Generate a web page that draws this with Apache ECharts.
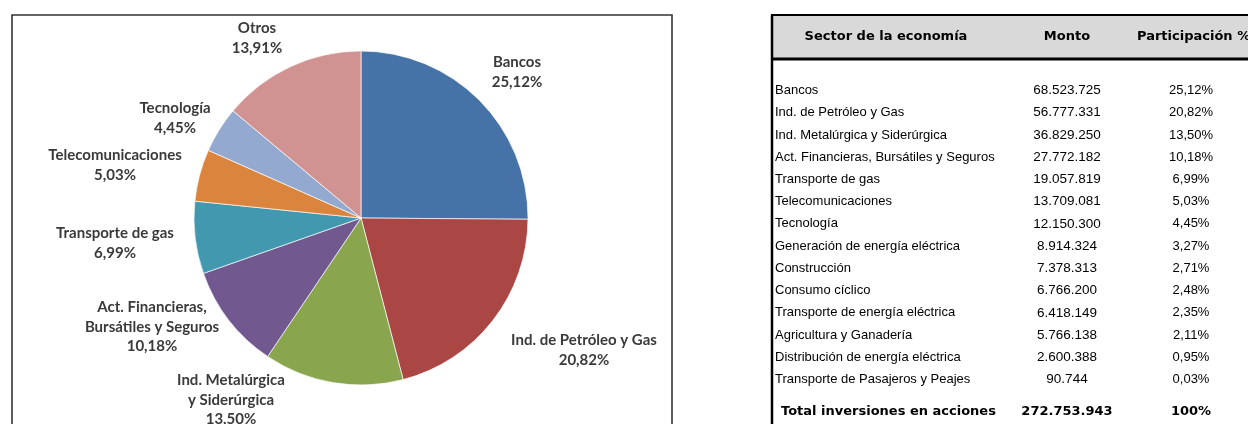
<!DOCTYPE html>
<html><head><meta charset="utf-8">
<script src="https://cdn.jsdelivr.net/npm/echarts@6/dist/echarts.min.js"></script>
<style>html,body{margin:0;padding:0;background:#fff}#c{width:1248px;height:424px}</style>
</head><body><div id="c"></div>
<script>
// ---- Pie data ----
const pieCategories = ['Bancos', 'Ind. de Petróleo y Gas', 'Ind. Metalúrgica\ny Siderúrgica', 'Act. Financieras,\nBursátiles y Seguros', 'Transporte de gas', 'Telecomunicaciones', 'Tecnología', 'Otros'];
const pieShares = [25.12, 20.82, 13.50, 10.18, 6.99, 5.03, 4.45, 13.91];

// ---- Table data ----
const tableHeaders = ['Sector de la economía', 'Monto', 'Participación %'];
const tableSectors = ['Bancos', 'Ind. de Petróleo y Gas', 'Ind. Metalúrgica y Siderúrgica', 'Act. Financieras, Bursátiles y Seguros', 'Transporte de gas', 'Telecomunicaciones', 'Tecnología', 'Generación de energía eléctrica', 'Construcción', 'Consumo cíclico', 'Transporte de energía eléctrica', 'Agricultura y Ganadería', 'Distribución de energía eléctrica', 'Transporte de Pasajeros y Peajes'];
const tableMontos = [68523725, 56777331, 36829250, 27772182, 19057819, 13709081, 12150300, 8914324, 7378313, 6766200, 6418149, 5766138, 2600388, 90744];
const tableShares = [25.12, 20.82, 13.50, 10.18, 6.99, 5.03, 4.45, 3.27, 2.71, 2.48, 2.35, 2.11, 0.95, 0.03];
const totalLabel = 'Total inversiones en acciones';
const totalMonto = 272753943;
const totalShare = '100%';

// ---- presentation ----
const sliceColors = ['#4572A7', '#AA4643', '#89A54E', '#71588F', '#4198AF', '#DB843D', '#93A9CF', '#D19392'];
const labelCenters = [[517, 72], [584, 350], [231, 400], [152, 327], [115, 243], [115, 165], [175, 118], [257, 38]];

function fmtMonto(v) { return String(v).replace(/\B(?=(\d{3})+(?!\d))/g, '.'); }
function fmtPct(v) { return v.toFixed(2).replace('.', ',') + '%'; }

const chart = echarts.init(document.getElementById('c'), null, { renderer: 'canvas' });

const graphics = [];
// pie frame
graphics.push({ type: 'rect', z: -10, shape: { x: 12, y: 15, width: 660, height: 430 }, style: { fill: '#fff', stroke: '#333', lineWidth: 1.6 } });
// table header
const tX = 772, rowY0 = 90.5, rowStep = 22.23;
const colMonto = 1067, colPct = 1191;
graphics.push({ type: 'rect', shape: { x: tX, y: 15, width: 520, height: 44 }, style: { fill: '#d9d9d9', stroke: '#000', lineWidth: 2 } });
graphics.push({ type: 'line', shape: { x1: tX, y1: 59, x2: 1260, y2: 59 }, style: { stroke: '#000', lineWidth: 3 } });
graphics.push({ type: 'line', shape: { x1: tX, y1: 15, x2: tX, y2: 430 }, style: { stroke: '#000', lineWidth: 2.5 } });
const hdrFont = 'bold 13px "DejaVu Sans"';
graphics.push({ type: 'text', x: 886, y: 37, style: { text: tableHeaders[0], font: hdrFont, fill: '#000', align: 'center', verticalAlign: 'middle' } });
graphics.push({ type: 'text', x: colMonto, y: 37, style: { text: tableHeaders[1], font: hdrFont, fill: '#000', align: 'center', verticalAlign: 'middle' } });
graphics.push({ type: 'text', x: 1137, y: 37, style: { text: tableHeaders[2], font: hdrFont, fill: '#000', align: 'left', verticalAlign: 'middle' } });
const rowFont = '13px "Liberation Sans"';
const numFont = '13.5px "Liberation Sans"';
tableSectors.forEach((s, i) => {
  const y = rowY0 + i * rowStep;
  graphics.push({ type: 'text', x: 775, y, style: { text: s, font: rowFont, fill: '#000', align: 'left', verticalAlign: 'middle' } });
  graphics.push({ type: 'text', x: colMonto, y, style: { text: fmtMonto(tableMontos[i]), font: numFont, fill: '#000', align: 'center', verticalAlign: 'middle' } });
  graphics.push({ type: 'text', x: colPct, y, style: { text: fmtPct(tableShares[i]), font: rowFont, fill: '#000', align: 'center', verticalAlign: 'middle' } });
});
const totFont = 'bold 13px "DejaVu Sans"';
graphics.push({ type: 'text', x: 781, y: 412, style: { text: totalLabel, font: totFont, fill: '#000', align: 'left', verticalAlign: 'middle' } });
graphics.push({ type: 'text', x: colMonto, y: 412, style: { text: fmtMonto(totalMonto), font: totFont, fill: '#000', align: 'center', verticalAlign: 'middle' } });
graphics.push({ type: 'text', x: colPct, y: 412, style: { text: totalShare, font: totFont, fill: '#000', align: 'center', verticalAlign: 'middle' } });

chart.setOption({
  animation: false,
  backgroundColor: '#fff',
  color: sliceColors,
  graphic: { elements: graphics },
  series: [{
    type: 'pie',
    center: [361, 218],
    radius: 167,
    startAngle: 90,
    clockwise: true,
    avoidLabelOverlap: false,
    silent: true,
    itemStyle: { borderColor: 'rgba(255,255,255,0.85)', borderWidth: 0.8 },
    label: {
      show: true,
      position: 'outside',
      fontFamily: 'Lato',
      fontWeight: 'bold',
      fontSize: 15,
      lineHeight: 19.5,
      color: '#3a3a3a',
      formatter: p => p.name + '\n' + fmtPct(p.value)
    },
    labelLine: { show: false },
    labelLayout: p => ({ x: labelCenters[p.dataIndex][0], y: labelCenters[p.dataIndex][1], align: 'center', verticalAlign: 'middle' }),
    data: pieCategories.map((n, i) => ({ name: n, value: pieShares[i] }))
  }]
});
</script>
</body></html>
